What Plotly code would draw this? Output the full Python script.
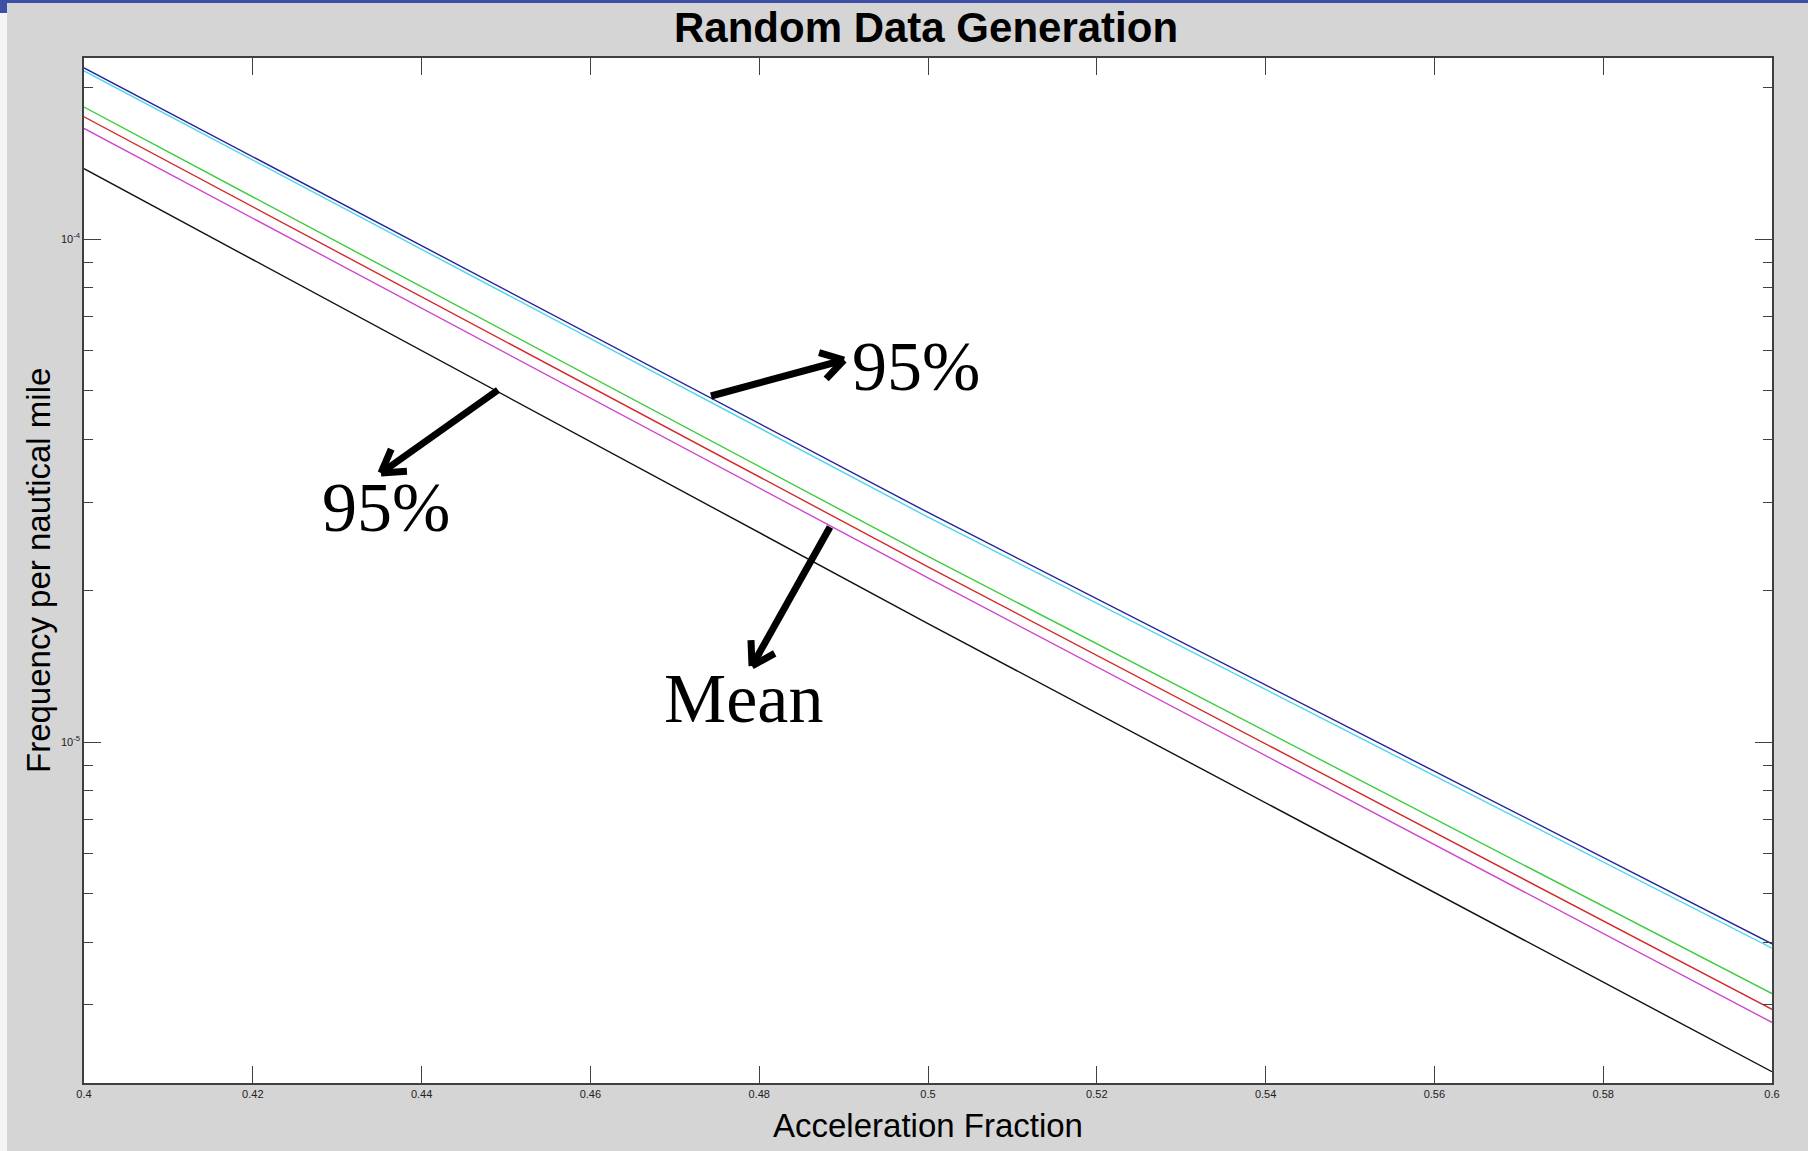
import math
import plotly.graph_objects as go

# ---------------- data ----------------
accel = [0.4, 0.5, 0.6]
freq_blue = [2.19e-4, 2.86e-5, 3.97e-6]
freq_cyan = [2.16e-4, 2.80e-5, 3.89e-6]
freq_green = [1.83e-4, 2.34e-5, 3.16e-6]
freq_red = [1.75e-4, 2.23e-5, 2.94e-6]
freq_magenta = [1.66e-4, 2.12e-5, 2.77e-6]
freq_black = [1.38e-4, 1.72e-5, 2.21e-6]

x_ticks = [0.4, 0.42, 0.44, 0.46, 0.48, 0.5, 0.52, 0.54, 0.56, 0.58, 0.6]
y_major = [1e-5, 1e-4]
y_major_text = ["10<sup>-5</sup>", "10<sup>-4</sup>"]
y_minor = [m * d for d in (1e-6, 1e-5, 1e-4) for m in range(2, 10)]

# ---------------- layout geometry ----------------
FIG_W, FIG_H = 1808, 1151
L, R, T, B = 84, 1772, 58, 1083
W, H = R - L, B - T


def px(x, y):
    return (x - L) / W, (B - y) / H


fig = go.Figure()
series = [
    ("blue", freq_blue, "#22229e"),
    ("cyan", freq_cyan, "#4fd6e4"),
    ("green", freq_green, "#3ccc3c"),
    ("red", freq_red, "#d42a2a"),
    ("magenta", freq_magenta, "#cf45cf"),
    ("black", freq_black, "#111111"),
]
for name, ys, col in series:
    fig.add_trace(go.Scatter(x=accel, y=ys, mode="lines", name=name,
                             line=dict(color=col, width=1.4), showlegend=False))

shapes = []
# slide decoration: white strip at left, blue bar at top
x0, _ = px(0, 0)
x1, _ = px(7, 0)
_, ytop = px(0, 0)
_, ybot = px(0, FIG_H)
shapes.append(dict(type="rect", xref="paper", yref="paper", x0=x0, x1=x1, y0=ybot, y1=ytop,
                   fillcolor="#f4f4f6", line=dict(width=0), layer="below"))
_, yb3 = px(0, 3)
shapes.append(dict(type="rect", xref="paper", yref="paper", x0=x0, x1=px(FIG_W, 0)[0], y0=yb3, y1=ytop,
                   fillcolor="#3f4fa6", line=dict(width=0)))
_, yb13 = px(0, 13)
shapes.append(dict(type="rect", xref="paper", yref="paper", x0=x0, x1=x1, y0=yb13, y1=ytop,
                   fillcolor="#3f4fa6", line=dict(width=0)))

# arrows (pixel coordinates of tail and head)
arrows = [((711, 396), (844, 360)), ((498, 390), (381, 473)), ((830, 527), (752, 666))]
for (tx, ty), (hx, hy) in arrows:
    a0 = px(tx, ty)
    a1 = px(hx, hy)
    shapes.append(dict(type="line", xref="paper", yref="paper", x0=a0[0], y0=a0[1], x1=a1[0], y1=a1[1],
                       line=dict(color="black", width=7)))
    ang = math.atan2(ty - hy, tx - hx)
    for d in (0.55, -0.55):
        ex = hx + 26 * math.cos(ang + d)
        ey = hy + 26 * math.sin(ang + d)
        e = px(ex, ey)
        shapes.append(dict(type="line", xref="paper", yref="paper", x0=a1[0], y0=a1[1], x1=e[0], y1=e[1],
                           line=dict(color="black", width=7)))

annotations = []
for txt, (cx, cy) in [("95%", (916, 366)), ("95%", (386, 508)), ("Mean", (743, 698))]:
    p = px(cx, cy)
    annotations.append(dict(text=txt, x=p[0], y=p[1], xref="paper", yref="paper", showarrow=False,
                            xanchor="center", yanchor="middle",
                            font=dict(family="Liberation Serif", size=70, color="black")))

# axis titles / title
p = px(926, 28)
annotations.append(dict(text="<b>Random Data Generation</b>", x=p[0], y=p[1], xref="paper", yref="paper",
                        showarrow=False, xanchor="center", yanchor="middle",
                        font=dict(family="Liberation Sans", size=42, color="black")))
p = px(928, 1125)
annotations.append(dict(text="Acceleration Fraction", x=p[0], y=p[1], xref="paper", yref="paper",
                        showarrow=False, xanchor="center", yanchor="middle",
                        font=dict(family="Liberation Sans", size=33, color="black")))
p = px(38, 571)
annotations.append(dict(text="Frequency per nautical mile", x=p[0], y=p[1], xref="paper", yref="paper",
                        showarrow=False, xanchor="center", yanchor="middle", textangle=-90,
                        font=dict(family="Liberation Sans", size=33, color="black")))

fig.update_layout(
    width=FIG_W, height=FIG_H,
    margin=dict(l=L, r=FIG_W - R, t=T, b=FIG_H - B, pad=0),
    paper_bgcolor="#d5d5d5", plot_bgcolor="white",
    shapes=shapes, annotations=annotations,
    xaxis=dict(range=[0.4, 0.6], tickvals=x_ticks, ticks="inside", ticklen=17, tickwidth=1.3,
               tickcolor="#404040", showline=True, linecolor="#404040", linewidth=1.6, mirror="ticks",
               showgrid=False, zeroline=False,
               tickfont=dict(family="Liberation Sans", size=11, color="#222222")),
    yaxis=dict(type="log", range=[-5.678, -3.64], tickvals=y_major, ticktext=y_major_text,
               ticks="inside", ticklen=17, tickwidth=1.3, tickcolor="#404040",
               showline=True, linecolor="#404040", linewidth=1.6, mirror="ticks",
               showgrid=False, zeroline=False,
               minor=dict(tickmode="array", tickvals=y_minor, ticks="inside", ticklen=9,
                          tickwidth=1.2, tickcolor="#404040", showgrid=False),
               tickfont=dict(family="Liberation Sans", size=11, color="#222222")),
)

fig.write_html("out.html", config={"displayModeBar": False},
               post_script="document.body.style.margin='0px';document.body.style.overflow='hidden';")
